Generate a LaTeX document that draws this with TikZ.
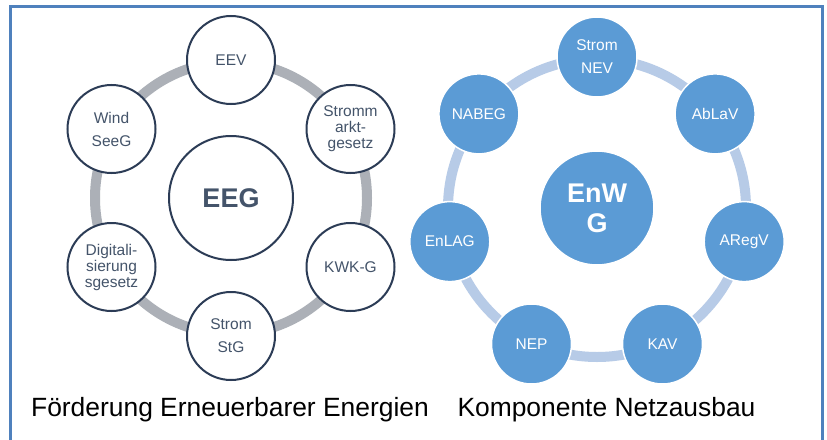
\documentclass[tikz,border=0pt]{standalone}
\usepackage{fontspec}
\setmainfont{Liberation Sans}
\definecolor{framec}{RGB}{79,129,189}
\definecolor{ringgray}{RGB}{172,176,183}
\definecolor{outl}{RGB}{44,60,86}
\definecolor{slate}{RGB}{68,84,106}
\definecolor{ringblue}{RGB}{183,203,231}
\definecolor{fillblue}{RGB}{91,155,213}
\tikzset{
  sat/.style={circle, draw=outl, line width=2pt, fill=white, minimum size=88pt, inner sep=0pt, align=center, text=slate, font=\fontsize{15.5}{16}\selectfont},
  satwide/.style={sat, font=\fontsize{15.5}{23}\selectfont},
  hub/.style={circle, draw=outl, line width=2pt, fill=white, minimum size=124pt, inner sep=0pt, align=center, text=slate, font=\fontsize{27}{30}\selectfont\bfseries},
  bsat/.style={circle, draw=white, line width=1.5pt, fill=fillblue, minimum size=80pt, inner sep=0pt, align=center, text=white, font=\fontsize{15.5}{23}\selectfont},
  bhub/.style={circle, draw=white, line width=1.5pt, fill=fillblue, minimum size=114pt, inner sep=0pt, align=center, text=white, font=\fontsize{27}{30}\selectfont\bfseries},
  grayring/.style={draw=ringgray, line width=10pt},
  bluering/.style={draw=ringblue, line width=10pt},
  caption/.style={anchor=base, inner sep=0pt, font=\fontsize{26.4}{30}\selectfont, text=black}
}
\begin{document}
\begin{tikzpicture}[x=1pt,y=-1pt]
\useasboundingbox (0,0) rectangle (827,439);
\fill[white] (0,0) rectangle (827,439);
\draw[framec, line width=3pt] (10.5,440) -- (10.5,6) -- (822,6) -- (822,440);

% left diagram
\coordinate (lc) at (231,198);
\draw[grayring] (lc) circle[radius=136];
\node[hub] (eeg) at (lc) {EEG};
\node[sat] (eev) at (231,60) {EEV};
\node[sat] (smg) at (350.5,129) {Stromm\\arkt-\\gesetz};
\node[sat] (kwk) at (350.5,267) {KWK-G};
\node[satwide] (stg) at (231,336) {Strom\\StG};
\node[sat] (dig) at (111.5,267) {Digitali-\\sierung\\sgesetz};
\node[satwide] (wind) at (111.5,129) {Wind\\SeeG};

% right diagram
\coordinate (rc) at (597,208);
\draw[bluering] (rc) circle[radius=149];
\node[bhub] (enwg) at (rc) {EnW\\G};
\node[bsat] (nev) at (597,57) {Strom\\NEV};
\node[bsat] (ablav) at (715.1,113.9) {AbLaV};
\node[bsat] (aregv) at (744.2,241.6) {ARegV};
\node[bsat] (kav) at (662.5,344) {KAV};
\node[bsat] (nep) at (531.5,344) {NEP};
\node[bsat] (enlag) at (449.8,241.6) {EnLAG};
\node[bsat] (nabeg) at (478.9,113.9) {NABEG};

% captions
\node[caption] (capl) at (230,416) {Förderung Erneuerbarer Energien};
\node[caption] (capr) at (606.5,416) {Komponente Netzausbau};
\end{tikzpicture}
\end{document}
